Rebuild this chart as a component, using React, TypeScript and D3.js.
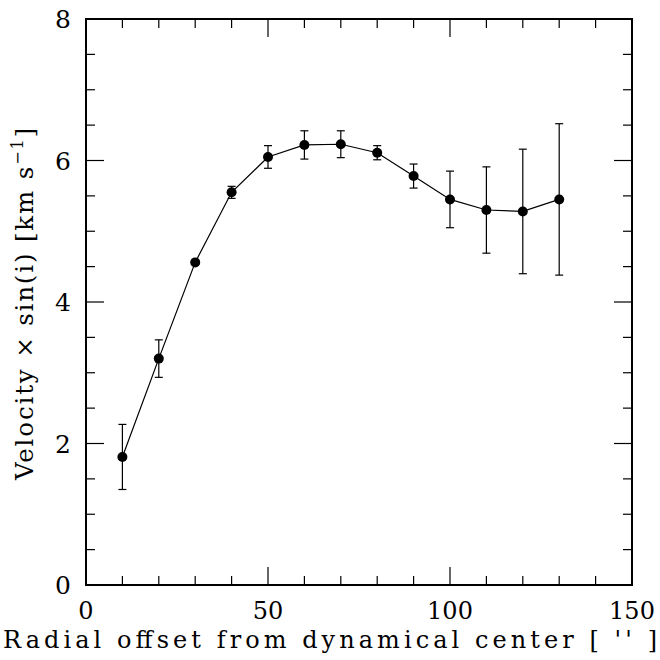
import React from 'react';
import {scaleLinear, line, range} from 'd3';

// radial offset (arcsec), velocity x sin(i), 1-sigma error
const offsets = [10, 20, 30, 40, 50, 60, 70, 80, 90, 100, 110, 120, 130];
const velocities = [1.81, 3.2, 4.56, 5.55, 6.05, 6.22, 6.23, 6.11, 5.78, 5.45, 5.3, 5.28, 5.45];
const errors = [0.46, 0.265, 0.02, 0.085, 0.16, 0.2, 0.19, 0.1, 0.17, 0.4, 0.61, 0.88, 1.07];

const xMajor = [0, 50, 100, 150];
const yMajor = [0, 2, 4, 6, 8];

const FONT = '"DejaVu Serif", serif';

export default function App() {
    const width = 660, height = 660;
    const left = 86, right = 632, top = 19, bottom = 585;

    const x = scaleLinear().domain([0, 150]).range([left, right]);
    const y = scaleLinear().domain([0, 8]).range([bottom, top]);

    const pts = offsets.map((o, i) => ({x: o, v: velocities[i], e: errors[i]}));
    const path = line<{x: number, v: number}>()
        .x(d => x(d.x))
        .y(d => y(d.v));

    const xMinor = range(0, 151, 10);
    const yMinor = range(0, 8.01, 0.5);
    const major = 18, minor = 9;

    return (
        <svg width={width} height={height} style={{position: 'absolute', left: 0, top: 0, background: '#fff'}}>
            {/* ticks on all four sides */}
            {xMinor.map(t => {
                const len = t % 50 === 0 ? major : minor;
                return (
                    <g key={'xt' + t} stroke="#000" strokeWidth={1.2}>
                        <line x1={x(t)} x2={x(t)} y1={bottom} y2={bottom - len} />
                        <line x1={x(t)} x2={x(t)} y1={top} y2={top + len} />
                    </g>
                );
            })}
            {yMinor.map(t => {
                const len = Math.abs(t % 2) < 1e-6 ? major : minor;
                return (
                    <g key={'yt' + t} stroke="#000" strokeWidth={1.2}>
                        <line x1={left} x2={left + len} y1={y(t)} y2={y(t)} />
                        <line x1={right} x2={right - len} y1={y(t)} y2={y(t)} />
                    </g>
                );
            })}
            <rect x={left} y={top} width={right - left} height={bottom - top}
                  fill="none" stroke="#000" strokeWidth={2} />

            {xMajor.map(t => (
                <text key={'xl' + t} x={x(t)} y={619} textAnchor="middle"
                      fontFamily={FONT} fontSize={24}>{t}</text>
            ))}
            {yMajor.map(t => (
                <text key={'yl' + t} x={71} y={y(t) + 9} textAnchor="end"
                      fontFamily={FONT} fontSize={25}>{t}</text>
            ))}

            <text x={3} y={648} fontFamily={FONT} fontSize={24}
                  textLength={654} lengthAdjust="spacing">
                Radial offset from dynamical center [ '' ]
            </text>
            <text transform={`translate(33,480) rotate(-90)`} fontFamily={FONT} fontSize={24.5}
                  textLength={352} lengthAdjust="spacing">
                Velocity × sin(i) [km s<tspan dy={-10} fontSize={16}>−1</tspan><tspan dy={10}>]</tspan>
            </text>

            {/* error bars */}
            {pts.map(d => (
                <g key={'e' + d.x} stroke="#000" strokeWidth={1.2}>
                    <line x1={x(d.x)} x2={x(d.x)} y1={y(d.v - d.e)} y2={y(d.v + d.e)} />
                    <line x1={x(d.x) - 4} x2={x(d.x) + 4} y1={y(d.v - d.e)} y2={y(d.v - d.e)} />
                    <line x1={x(d.x) - 4} x2={x(d.x) + 4} y1={y(d.v + d.e)} y2={y(d.v + d.e)} />
                </g>
            ))}
            <path d={path(pts) || ''} fill="none" stroke="#000" strokeWidth={1.2} />
            {pts.map(d => (
                <circle key={'p' + d.x} cx={x(d.x)} cy={y(d.v)} r={5} fill="#000" />
            ))}
        </svg>
    );
}
